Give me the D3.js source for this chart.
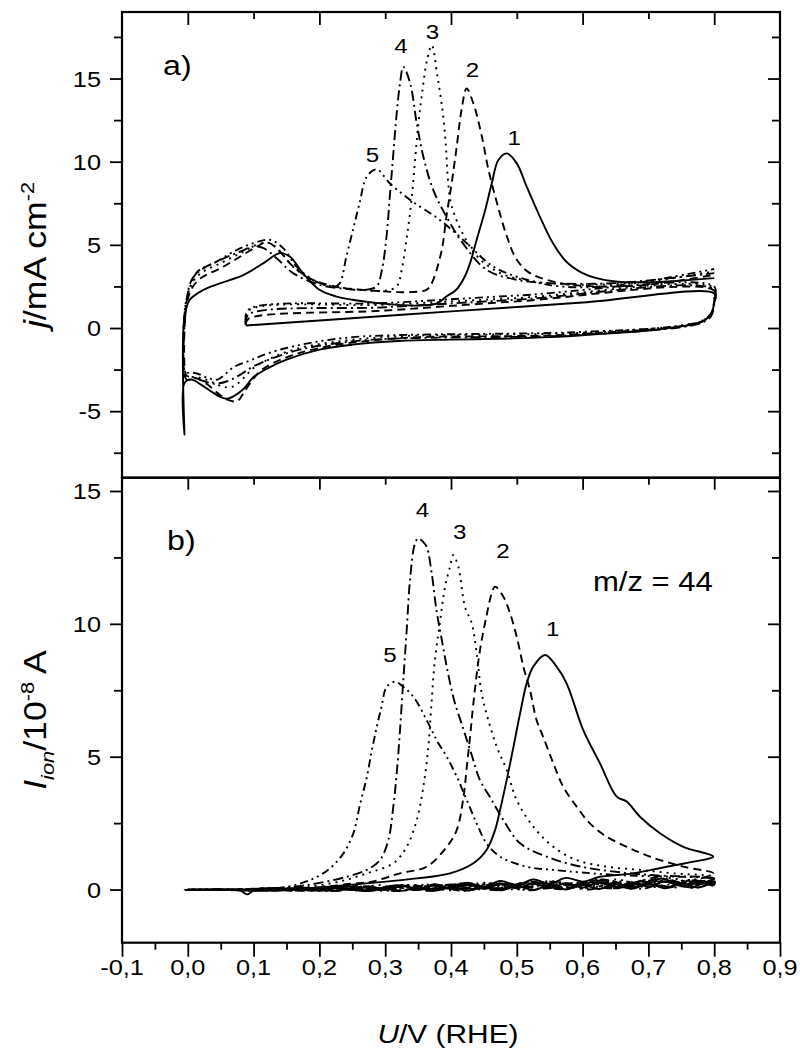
<!DOCTYPE html>
<html>
<head>
<meta charset="utf-8">
<script src="https://cdn.jsdelivr.net/npm/d3@7"></script>
<style>
  html, body { margin: 0; padding: 0; background: #fff; }
  svg text { font-family: "Liberation Sans", Arial, Helvetica, sans-serif; fill: #000; }
</style>
</head>
<body>
<svg id="chart" width="800" height="1050"></svg>
<script>
// ---- axis values ----
const potentialDomain = [-0.1, 0.9];
const currentDomain = [-9, 19];
const ionDomain = [-2, 15.5];
const potentialTicks = [-0.1, 0.0, 0.1, 0.2, 0.3, 0.4, 0.5, 0.6, 0.7, 0.8, 0.9];
const potentialMinor = [-0.05, 0.05, 0.15, 0.25, 0.35, 0.45, 0.55, 0.65, 0.75, 0.85];
const frameMajor = [0.0, 0.2, 0.4, 0.6, 0.8];
const frameMinor = [0.1, 0.3, 0.5, 0.7];
const currentTicks = [-5, 0, 5, 10, 15];
const currentMinor = [-7.5, -2.5, 2.5, 7.5, 12.5, 17.5];
const ionTicks = [0, 5, 10, 15];
const ionMinor = [2.5, 7.5, 12.5];
const curveNames = ["1", "2", "3", "4", "5"];

// ---- panel a: current density j (mA cm^-2) vs U (V) ----
const cv1 = [[0.088,0.15],[0.2,0.45],[0.4,1.0],[0.6,1.53],[0.8,2.08],
  [0.8,1.6],[0.796,0.9],[0.785,0.45],[0.765,0.2],[0.74,0.05],[0.7,-0.15],[0.63,-0.35],[0.55,-0.55],[0.47,-0.65],[0.4,-0.7],[0.32,-0.78],[0.25,-1.0],[0.2,-1.3],[0.15,-1.9],[0.125,-2.35],[0.1,-2.95],[0.085,-3.65],[0.07,-4.1],[0.06,-4.25],[0.05,-4.15],[0.035,-3.8],[0.02,-3.4],[0.005,-3.1],[-0.005,-3.3],[-0.005,-6.4],[-0.005,0.7],
  [0.003,1.7],[0.024,2.3],[0.05,2.7],[0.085,3.2],[0.115,3.9],[0.14,4.5],[0.155,4.3],[0.175,3.3],[0.2,2.3],[0.225,1.9],[0.25,1.7],[0.3,1.45],[0.35,1.35],[0.38,1.5],[0.393,1.9],[0.408,2.3],[0.421,3.1],[0.429,3.9],[0.439,5.3],[0.452,7.1],[0.462,8.7],[0.472,10.1],[0.485,10.5],[0.5,9.9],[0.515,8.5],[0.535,6.7],[0.555,5.1],[0.575,4.0],[0.6,3.3],[0.621,3.0],[0.65,2.8],[0.7,2.75],[0.75,2.85],[0.8,3.0]];
const cv2 = [[0.088,0.2],[0.092,0.55],[0.3,1.05],[0.5,1.6],[0.8,2.25],
  [0.8,1.5],[0.795,0.8],[0.78,0.35],[0.75,0.1],[0.7,-0.1],[0.62,-0.3],[0.55,-0.45],[0.45,-0.5],[0.35,-0.55],[0.28,-0.75],[0.22,-1.05],[0.17,-1.5],[0.13,-2.1],[0.11,-2.6],[0.095,-3.3],[0.085,-3.9],[0.075,-4.4],[0.06,-4.3],[0.045,-3.9],[0.03,-3.4],[0.015,-3.05],[0.0,-2.9],[-0.003,-2.8],[-0.003,1.0],
  [0.005,2.3],[0.02,3.0],[0.05,3.6],[0.08,4.3],[0.105,4.9],[0.12,5.15],[0.135,4.8],[0.16,3.7],[0.19,2.9],[0.23,2.45],[0.28,2.25],[0.33,2.15],[0.36,2.25],[0.366,2.4],[0.373,2.9],[0.386,4.7],[0.393,6.7],[0.401,8.7],[0.408,10.7],[0.416,13.1],[0.4237,14.4],[0.434,13.5],[0.447,11.5],[0.457,9.5],[0.47,7.5],[0.485,5.5],[0.5,4.1],[0.52,3.3],[0.566,2.7],[0.62,2.5],[0.7,2.6],[0.8,3.2]];
const cv3 = [[0.088,0.3],[0.092,1.05],[0.3,1.4],[0.5,1.8],[0.8,2.4],
  [0.8,1.6],[0.795,0.9],[0.78,0.4],[0.75,0.15],[0.7,-0.05],[0.62,-0.25],[0.55,-0.35],[0.45,-0.4],[0.35,-0.45],[0.28,-0.6],[0.22,-0.85],[0.17,-1.2],[0.13,-1.75],[0.1,-2.4],[0.085,-3.0],[0.07,-3.5],[0.055,-3.55],[0.04,-3.3],[0.02,-3.0],[0.0,-2.9],[-0.004,-2.8],[-0.004,1.2],
  [0.005,2.6],[0.02,3.3],[0.05,3.9],[0.08,4.5],[0.105,5.0],[0.125,5.1],[0.14,4.6],[0.165,3.5],[0.2,2.7],[0.25,2.35],[0.3,2.25],[0.3175,2.5],[0.325,3.5],[0.333,5.5],[0.34,7.7],[0.345,9.9],[0.35,12.1],[0.356,14.1],[0.3635,16.1],[0.3707,17.0],[0.3795,15.1],[0.387,13.1],[0.392,11.1],[0.395,9.1],[0.4,7.5],[0.415,5.9],[0.44,4.3],[0.475,3.3],[0.525,2.8],[0.6,2.6],[0.7,2.8],[0.8,3.4]];
const cv4 = [[0.088,0.2],[0.092,0.8],[0.3,1.25],[0.5,1.7],[0.8,2.3],
  [0.8,1.4],[0.795,0.7],[0.78,0.3],[0.75,0.05],[0.7,-0.15],[0.62,-0.35],[0.55,-0.5],[0.45,-0.55],[0.35,-0.6],[0.28,-0.7],[0.22,-0.95],[0.17,-1.3],[0.13,-1.8],[0.1,-2.3],[0.08,-2.8],[0.06,-3.2],[0.04,-3.35],[0.025,-3.2],[0.01,-3.0],[-0.002,-3.1],[-0.002,1.5],
  [0.006,2.9],[0.02,3.5],[0.05,4.1],[0.08,4.6],[0.1,4.9],[0.115,4.8],[0.135,4.2],[0.16,3.3],[0.2,2.6],[0.24,2.35],[0.27,2.3],[0.287,2.5],[0.295,3.5],[0.302,5.5],[0.307,7.9],[0.312,10.3],[0.317,12.7],[0.3225,14.7],[0.3275,15.7],[0.338,14.7],[0.348,12.3],[0.358,10.3],[0.373,8.3],[0.393,6.7],[0.418,5.1],[0.454,3.5],[0.5,2.9],[0.55,2.7],[0.65,2.7],[0.8,3.3]];
const cv5 = [[0.088,0.4],[0.092,1.1],[0.3,1.5],[0.5,1.95],[0.8,2.5],
  [0.8,1.8],[0.797,1.0],[0.785,0.5],[0.76,0.2],[0.7,-0.05],[0.62,-0.2],[0.55,-0.3],[0.45,-0.35],[0.35,-0.4],[0.3,-0.45],[0.25,-0.55],[0.2,-0.8],[0.15,-1.2],[0.12,-1.55],[0.095,-1.95],[0.07,-2.35],[0.045,-3.1],[0.03,-3.0],[0.015,-2.75],[0.0,-2.7],[-0.004,-2.9],[-0.004,1.3],
  [0.005,2.6],[0.015,3.4],[0.04,3.9],[0.07,4.6],[0.1,5.1],[0.125,5.3],[0.145,4.8],[0.165,3.7],[0.19,2.9],[0.21,2.55],[0.222,2.45],[0.231,2.7],[0.241,4.3],[0.251,5.9],[0.261,7.5],[0.272,9.1],[0.287,9.54],[0.307,8.7],[0.338,7.7],[0.383,6.5],[0.424,5.1],[0.464,3.7],[0.515,2.9],[0.567,2.5],[0.65,2.55],[0.8,3.55]];

// ---- panel b: ion current for m/z = 44 (10^-8 A) vs U (V) ----
// each trace: outgoing sweep, return sweep, then the sweep with the CO2 peak and its return
const ms1 = [[0.09,0.0],[0.12,0.03],[0.15,-0.03],[0.18,0.05],[0.2,-0.04],[0.225,0.1],[0.25,-0.02],[0.275,0.13],[0.3,0.0],[0.325,0.15],[0.35,-0.02],[0.375,0.16],[0.4,0.02],[0.425,0.18],[0.45,0.03],[0.475,0.2],[0.5,0.05],[0.525,0.22],[0.55,0.06],[0.575,0.24],[0.6,0.08],[0.625,0.26],[0.65,0.1],[0.675,0.28],[0.7,0.12],[0.725,0.3],[0.75,0.14],[0.775,0.32],[0.8,0.18],
  [0.8,0.25],[0.775,0.08],[0.75,0.24],[0.725,0.05],[0.7,0.22],[0.675,0.03],[0.65,0.2],[0.625,0.02],[0.6,0.18],[0.575,0.0],[0.55,0.16],[0.525,-0.02],[0.5,0.14],[0.475,-0.03],[0.45,0.12],[0.425,-0.04],[0.4,0.1],[0.375,-0.05],[0.35,0.08],[0.325,-0.05],[0.3,0.06],[0.275,-0.06],[0.25,0.05],[0.225,-0.06],[0.2,0.04],[0.15,-0.03],[0.1,-0.04],[0.05,0.0],[0.0,-0.02],[-0.005,0.0],
  [0.05,-0.02],[0.08,-0.05],[0.09,-0.18],[0.1,-0.05],[0.15,0.0],[0.22,0.12],[0.297,0.29],[0.348,0.42],[0.3985,0.61],[0.434,0.99],[0.454,1.49],[0.467,2.24],[0.4745,2.99],[0.4846,4.12],[0.495,5.38],[0.505,6.63],[0.515,7.76],[0.525,8.39],[0.543,8.83],[0.5605,8.39],[0.5757,7.76],[0.601,6.0],[0.6264,4.75],[0.6518,3.5],[0.667,3.31],[0.6872,2.74],[0.7176,2.12],[0.753,1.61],[0.7986,1.24],
  [0.769,1.05],[0.7278,0.86],[0.677,0.61],[0.626,0.48],[0.6,0.3],[0.575,0.44],[0.55,0.22],[0.525,0.38],[0.5,0.16],[0.475,0.32],[0.45,0.1],[0.425,0.26],[0.4,0.05],[0.375,0.2],[0.35,0.02],[0.325,0.15],[0.3,-0.01],[0.275,0.1],[0.25,-0.02],[0.225,0.06],[0.2,-0.02],[0.15,0.02]];
const ms2 = [[0.09,0.02],[0.14,-0.03],[0.18,0.07],[0.22,-0.04],[0.26,0.14],[0.3,-0.02],[0.34,0.17],[0.38,0.0],[0.42,0.2],[0.47,0.02],[0.52,0.23],[0.57,0.04],[0.62,0.27],[0.67,0.07],[0.72,0.31],[0.76,0.1],[0.8,0.3],
  [0.8,0.15],[0.77,0.35],[0.73,0.08],[0.69,0.3],[0.65,0.04],[0.61,0.26],[0.57,0.01],[0.52,0.22],[0.47,-0.03],[0.42,0.18],[0.37,-0.05],[0.32,0.15],[0.27,-0.06],[0.22,0.1],[0.17,-0.05],[0.12,0.04],[0.06,-0.02],[0.0,0.0],
  [0.05,0.01],[0.1,0.0],[0.15,0.04],[0.2,0.08],[0.24,0.2],[0.28,0.3],[0.3225,0.61],[0.363,0.86],[0.3935,1.61],[0.4087,2.24],[0.419,3.49],[0.424,4.62],[0.429,5.75],[0.434,7.01],[0.444,9.0],[0.454,10.3],[0.4619,11.15],[0.4669,11.4],[0.4796,11.02],[0.4897,10.4],[0.4998,9.52],[0.51,8.39],[0.52,7.51],[0.53,6.38],[0.54,5.75],[0.5555,4.75],[0.5706,3.87],[0.591,3.12],[0.611,2.49],[0.6366,1.99],[0.667,1.61],[0.7024,1.24],[0.753,0.86],[0.7986,0.61],
  [0.78,0.42],[0.75,0.25],[0.71,0.45],[0.67,0.2],[0.63,0.38],[0.59,0.12],[0.55,0.3],[0.51,0.06],[0.47,0.24],[0.43,0.02],[0.39,0.18],[0.35,-0.02],[0.31,0.12],[0.27,-0.03],[0.23,0.06],[0.2,0.0]];
const ms3 = [[0.09,0.0],[0.13,0.05],[0.17,-0.03],[0.21,0.12],[0.25,-0.02],[0.29,0.17],[0.33,0.0],[0.37,0.2],[0.41,0.02],[0.46,0.23],[0.51,0.04],[0.56,0.27],[0.61,0.06],[0.66,0.31],[0.71,0.09],[0.76,0.36],[0.8,0.2],
  [0.8,0.34],[0.76,0.1],[0.72,0.33],[0.68,0.07],[0.64,0.29],[0.6,0.03],[0.55,0.25],[0.5,0.0],[0.45,0.2],[0.4,-0.03],[0.35,0.16],[0.3,-0.05],[0.25,0.12],[0.2,-0.05],[0.15,0.05],[0.1,-0.04],[0.05,0.01],[0.0,-0.01],
  [0.05,0.0],[0.1,0.02],[0.14,0.05],[0.18,0.1],[0.23,0.3],[0.272,0.61],[0.3123,0.99],[0.3327,1.61],[0.348,2.62],[0.358,3.87],[0.3656,5.38],[0.37,6.88],[0.375,8.51],[0.383,10.02],[0.391,11.4],[0.3985,12.15],[0.4035,12.59],[0.4111,12.15],[0.4213,10.64],[0.4315,10.02],[0.439,8.89],[0.4466,7.38],[0.4567,6.38],[0.4694,5.38],[0.4846,4.5],[0.4998,3.37],[0.525,2.37],[0.5555,1.61],[0.591,1.11],[0.6366,0.86],[0.6872,0.74],[0.738,0.61],[0.7986,0.48],
  [0.77,0.26],[0.73,0.44],[0.69,0.2],[0.65,0.38],[0.6,0.14],[0.55,0.32],[0.5,0.08],[0.45,0.26],[0.4,0.02],[0.35,0.18],[0.3,-0.02],[0.25,0.1],[0.2,0.0]];
const ms4 = [[0.09,0.01],[0.14,0.06],[0.19,-0.04],[0.24,0.12],[0.28,-0.03],[0.32,0.16],[0.36,-0.01],[0.4,0.19],[0.44,0.01],[0.49,0.22],[0.54,0.03],[0.59,0.26],[0.64,0.05],[0.69,0.3],[0.74,0.08],[0.78,0.33],[0.8,0.2],
  [0.8,0.3],[0.77,0.06],[0.73,0.3],[0.69,0.03],[0.65,0.26],[0.61,0.0],[0.57,0.23],[0.52,-0.03],[0.47,0.19],[0.42,-0.05],[0.37,0.15],[0.32,-0.06],[0.27,0.11],[0.22,-0.06],[0.17,0.04],[0.12,-0.03],[0.06,0.01],[0.0,0.0],
  [0.05,0.0],[0.1,0.02],[0.16,0.1],[0.2,0.25],[0.2415,0.48],[0.272,0.74],[0.2921,1.11],[0.3047,1.86],[0.3123,3.12],[0.3175,4.37],[0.3225,6.0],[0.3275,7.89],[0.3327,9.77],[0.3377,11.65],[0.3453,13.03],[0.3503,13.22],[0.357,13.1],[0.363,12.9],[0.3707,11.9],[0.378,10.5],[0.386,9.4],[0.395,8.2],[0.405,7.1],[0.418,6.1],[0.431,5.1],[0.444,4.12],[0.459,3.49],[0.4795,2.62],[0.505,1.74],[0.5454,1.24],[0.6,0.85],[0.7,0.55],[0.8,0.42],
  [0.76,0.2],[0.72,0.4],[0.67,0.15],[0.62,0.34],[0.57,0.1],[0.52,0.28],[0.47,0.05],[0.42,0.22],[0.37,0.01],[0.32,0.15],[0.27,-0.02],[0.22,0.06]];
const ms5 = [[0.09,0.0],[0.13,-0.04],[0.17,0.06],[0.21,-0.04],[0.25,0.15],[0.29,-0.02],[0.33,0.18],[0.37,0.01],[0.42,0.21],[0.47,0.02],[0.52,0.25],[0.57,0.05],[0.62,0.29],[0.67,0.08],[0.72,0.33],[0.76,0.12],[0.8,0.3],
  [0.8,0.16],[0.77,0.38],[0.73,0.1],[0.69,0.32],[0.65,0.05],[0.61,0.28],[0.57,0.02],[0.52,0.24],[0.47,-0.02],[0.42,0.2],[0.37,-0.04],[0.32,0.16],[0.27,-0.05],[0.22,0.1],[0.17,-0.04],[0.12,0.03],[0.06,-0.01],[0.0,0.0],
  [0.05,0.0],[0.1,0.0],[0.15,0.1],[0.19,0.4],[0.2161,0.8],[0.2364,1.36],[0.2516,2.12],[0.2617,3.2],[0.2718,4.2],[0.2794,5.2],[0.287,6.1],[0.2946,6.9],[0.3022,7.63],[0.3149,7.82],[0.3275,7.63],[0.3427,7.26],[0.363,6.38],[0.378,5.63],[0.3935,5.0],[0.4087,4.25],[0.424,3.37],[0.439,2.49],[0.454,1.74],[0.4745,1.24],[0.515,0.86],[0.5555,0.74],[0.65,0.55],[0.8,0.4],
  [0.76,0.22],[0.72,0.42],[0.67,0.16],[0.62,0.36],[0.57,0.1],[0.52,0.3],[0.47,0.05],[0.42,0.24],[0.37,0.01],[0.32,0.16],[0.27,-0.02],[0.22,0.07]];

const cvCurves = [cv1, cv2, cv3, cv4, cv5];
const msCurves = [ms1, ms2, ms3, ms4, ms5];

// ---- layout and styling ----
const frame = { left: 122, right: 780, top: 12, mid: 477.7, bottom: 942.7 };
const dashStyles = [null, "8,5", "2,5", "10,4,2,4", "8,4,2,4,2,4"];
const textStretch = 1.15;
const topLabelOffsets = [[7.3,-8.3],[5.8,-11.6],[0.8,-6.7],[-2.3,-13.7],[-4.2,-7.6]];
const botLabelOffsets = [[7.5,-19],[8,-28.7],[6.4,-16],[4.2,-21.6],[-5,-20]];

const svg = d3.select("#chart");
const x = d3.scaleLinear(potentialDomain, [frame.left, frame.right]);
const yTop = d3.scaleLinear(currentDomain, [frame.mid, frame.top]);
const yBot = d3.scaleLinear(ionDomain, [frame.bottom, frame.mid]);

const fmtU = d => d3.format(".1f")(d).replace(".", ",").replace("\u2212", "-");
const fmtY = d => String(d);

// text whose glyphs are widened along the writing direction
function stretchedText(str, px, py, size, anchor, rotate) {
  const t = svg.append("text")
    .attr("transform", `translate(${px},${py})` + (rotate ? ` rotate(${rotate})` : "") + ` scale(${textStretch},1)`)
    .attr("font-size", size)
    .attr("text-anchor", anchor || "start");
  if (str !== null) t.text(str);
  return t;
}

// ---- ticks through d3 axes ----
function tickGroup(axis, tx, ty) {
  const g = svg.append("g").attr("transform", `translate(${tx},${ty})`).call(axis);
  g.select(".domain").remove();
  g.selectAll("text").remove();
  g.selectAll("line").attr("stroke", "#000").attr("stroke-width", 1.8);
  return g;
}
// panel a
tickGroup(d3.axisLeft(yTop).tickValues(currentTicks).tickSize(12), frame.left, 0);
tickGroup(d3.axisLeft(yTop).tickValues(currentMinor).tickSize(8), frame.left, 0);
tickGroup(d3.axisRight(yTop).tickValues(currentTicks).tickSize(-12), frame.right, 0);
tickGroup(d3.axisRight(yTop).tickValues(currentMinor).tickSize(-8), frame.right, 0);
tickGroup(d3.axisTop(x).tickValues(frameMajor).tickSize(-13), 0, frame.top);
tickGroup(d3.axisTop(x).tickValues(frameMinor).tickSize(-7), 0, frame.top);
// shared boundary
tickGroup(d3.axisBottom(x).tickValues(frameMajor).tickSize(12), 0, frame.mid);
tickGroup(d3.axisBottom(x).tickValues(frameMinor).tickSize(7), 0, frame.mid);
// panel b
tickGroup(d3.axisLeft(yBot).tickValues(ionTicks).tickSize(12), frame.left, 0);
tickGroup(d3.axisLeft(yBot).tickValues(ionMinor).tickSize(8), frame.left, 0);
tickGroup(d3.axisRight(yBot).tickValues(ionTicks).tickSize(-12), frame.right, 0);
tickGroup(d3.axisRight(yBot).tickValues(ionMinor).tickSize(-8), frame.right, 0);
tickGroup(d3.axisBottom(x).tickValues(potentialTicks).tickSize(14), 0, frame.bottom);
tickGroup(d3.axisBottom(x).tickValues(potentialMinor).tickSize(7), 0, frame.bottom);

// ---- frames ----
svg.append("rect").attr("x", frame.left).attr("y", frame.top)
  .attr("width", frame.right - frame.left).attr("height", frame.mid - frame.top)
  .attr("fill", "none").attr("stroke", "#000").attr("stroke-width", 2.2);
svg.append("rect").attr("x", frame.left).attr("y", frame.mid)
  .attr("width", frame.right - frame.left).attr("height", frame.bottom - frame.mid)
  .attr("fill", "none").attr("stroke", "#000").attr("stroke-width", 2.2);

// ---- tick labels ----
const tickFont = 22;
currentTicks.forEach(v => stretchedText(fmtY(v), frame.left - 21, yTop(v) + 8, tickFont, "end"));
ionTicks.forEach(v => stretchedText(fmtY(v), frame.left - 21, yBot(v) + 8, tickFont, "end"));
potentialTicks.forEach(v => stretchedText(fmtU(v), x(v), frame.bottom + 32.5, tickFont, "middle"));

// ---- curves ----
const lineTop = d3.line().x(d => x(d[0])).y(d => yTop(d[1])).curve(d3.curveCatmullRom.alpha(0.5));
const lineBot = d3.line().x(d => x(d[0])).y(d => yBot(d[1])).curve(d3.curveCatmullRom.alpha(0.5));

const plotTop = svg.append("g");
cvCurves.forEach((c, i) => {
  plotTop.append("path").attr("d", lineTop(c)).attr("fill", "none")
    .attr("stroke", "#000").attr("stroke-width", 1.9)
    .attr("stroke-dasharray", dashStyles[i]).attr("stroke-linejoin", "round");
});
const plotBot = svg.append("g");
msCurves.forEach((c, i) => {
  plotBot.append("path").attr("d", lineBot(c)).attr("fill", "none")
    .attr("stroke", "#000").attr("stroke-width", 1.9)
    .attr("stroke-dasharray", dashStyles[i]).attr("stroke-linejoin", "round");
});

// ---- curve numbers at the peaks ----
function peakOf(c) { return c.reduce((a, b) => (b[1] > a[1] ? b : a)); }
cvCurves.forEach((c, i) => {
  const p = peakOf(c);
  stretchedText(curveNames[i], x(p[0]) + topLabelOffsets[i][0], yTop(p[1]) + topLabelOffsets[i][1], 21, "middle");
});
msCurves.forEach((c, i) => {
  const p = peakOf(c);
  stretchedText(curveNames[i], x(p[0]) + botLabelOffsets[i][0], yBot(p[1]) + botLabelOffsets[i][1], 21, "middle");
});

// ---- panel tags and annotation ----
stretchedText("a)", 163, 75, 28, "start");
stretchedText("b)", 167, 550, 28, "start");
stretchedText("m/z = 44", 593, 590.5, 27, "start");

// ---- axis titles ----
const xt = stretchedText(null, 448, 1043, 26, "middle");
xt.append("tspan").attr("font-style", "italic").text("U");
xt.append("tspan").text("/V (RHE)");

const yt1 = stretchedText(null, 46, 255, 31, "middle", -90);
yt1.append("tspan").attr("font-style", "italic").text("j");
yt1.append("tspan").text("/mA cm");
yt1.append("tspan").attr("font-size", 19).attr("dy", -12).text("-2");

const yt2 = stretchedText(null, 46, 720, 31, "middle", -90);
yt2.append("tspan").attr("font-style", "italic").text("I");
yt2.append("tspan").attr("font-style", "italic").attr("font-size", 19).attr("dy", 8).text("ion");
yt2.append("tspan").attr("dy", -8).text("/10");
yt2.append("tspan").attr("font-size", 19).attr("dy", -12).text("-8");
yt2.append("tspan").attr("dy", 12).text(" A");
</script>
</body>
</html>
